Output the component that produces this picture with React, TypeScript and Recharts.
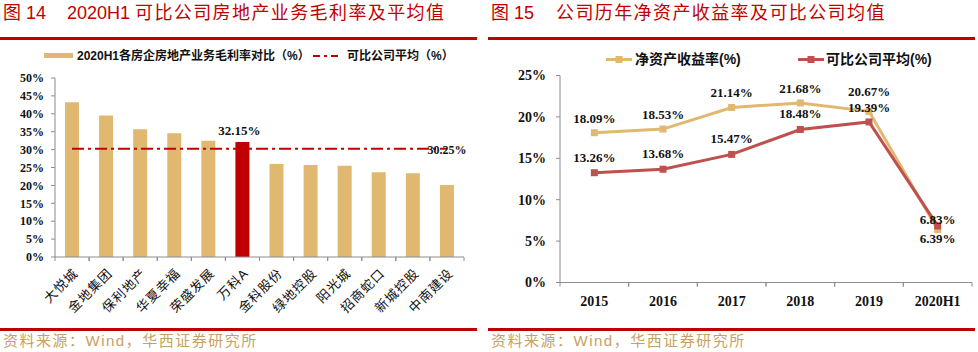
import { ComposedChart, Bar, Line, XAxis, YAxis, Cell, LabelList } from "recharts";

// 图14 数据
const companies = ["大悦城", "金地集团", "保利地产", "华夏幸福", "荣盛发展", "万科A", "金科股份", "绿地控股", "阳光城", "招商蛇口", "新城控股", "中南建设"];
const grossMargin = [43.2, 39.5, 35.7, 34.6, 32.5, 32.15, 26.0, 25.7, 25.5, 23.7, 23.4, 20.1];
const peerAvgMargin = 30.25;
const marginTicks = [0, 5, 10, 15, 20, 25, 30, 35, 40, 45, 50];
const highlightCompany = "万科A";

// 图15 数据
const years = ["2015", "2016", "2017", "2018", "2019", "2020H1"];
const roe = [18.09, 18.53, 21.14, 21.68, 20.67, 6.39];
const peerRoe = [13.26, 13.68, 15.47, 18.48, 19.39, 6.83];
const roeTicks = [0, 5, 10, 15, 20, 25];

const GOLD = "#E0B870";
const DARK_RED = "#C00000";
const LINE_RED = "#C0504D";
const AXIS = "#8C8C8C";
const SOURCE = "#C9A063";
const SERIF = "'Liberation Serif', 'Times New Roman', serif";
const CJK = "'Liberation Sans', 'Noto Sans CJK SC', sans-serif";

const L_PLOT_W = 409;
const R_PLOT_W = 412;

const marginData = companies.map((c, i) => ({ company: c, margin: grossMargin[i], avg: peerAvgMargin }));
const roeData = years.map((y, i) => ({ year: y, roe: roe[i], peer: peerRoe[i] }));

const pct = (v: number) => `${v}%`;

function CompanyTick({ x, y, payload }: any) {
  const bw = L_PLOT_W / companies.length;
  const ax = x + 7;
  const ay = y + 17;
  return (
    <g>
      <line x1={x - bw / 2} y1={y} x2={x - bw / 2} y2={y + 4} stroke={AXIS} />
      <line x1={x + bw / 2} y1={y} x2={x + bw / 2} y2={y + 4} stroke={AXIS} />
      <text x={ax} y={ay} textAnchor="end" transform={`rotate(-45, ${ax}, ${ay})`} fontFamily={CJK} fontSize={13} letterSpacing={1} fill="#111">
        {payload.value}
      </text>
    </g>
  );
}

function YearTick({ x, y, payload }: any) {
  const bw = R_PLOT_W / years.length;
  return (
    <g>
      <line x1={x - bw / 2} y1={y} x2={x - bw / 2} y2={y + 4} stroke={AXIS} />
      <line x1={x + bw / 2} y1={y} x2={x + bw / 2} y2={y + 4} stroke={AXIS} />
      <text x={x} y={y + 23} textAnchor="middle" fontFamily={SERIF} fontWeight="bold" fontSize={14} fill="#111">
        {payload.value}
      </text>
    </g>
  );
}

const squareDot = (color: string) => (props: any) => {
  const { cx, cy, index } = props;
  return <rect key={index} x={cx - 3.5} y={cy - 3.5} width={7} height={7} fill={color} />;
};

const roeLabelDy = [-10, -10, -10, -10, -15, 13];
const peerLabelDy = [-11, -11, -11, -11, -10, -2];

const makeRoeLabel = (dys: number[]) => (props: any) => {
  const { x, y, value, index } = props;
  return (
    <text key={index} x={x} y={y + dys[index]} textAnchor="middle" fontFamily={SERIF} fontWeight="bold" fontSize={13} fill="#111">
      {value.toFixed(2)}%
    </text>
  );
};

function VankeLabel(props: any) {
  const { x, y, width, value, index } = props;
  if (companies[index] !== highlightCompany) return null;
  return (
    <text x={x + width / 2 - 3} y={y - 7} textAnchor="middle" fontFamily={SERIF} fontWeight="bold" fontSize={13} fill="#111">
      {value.toFixed(2)}%
    </text>
  );
}

function AvgLabel(props: any) {
  const { x, y, value, index } = props;
  if (index !== companies.length - 1) return null;
  return (
    <text x={x} y={y + 5} textAnchor="middle" fontFamily={SERIF} fontWeight="bold" fontSize={12} fill="#111">
      {value.toFixed(2)}%
    </text>
  );
}

function MarginChart() {
  return (
    <ComposedChart width={488} height={330} data={marginData} margin={{ top: 78, right: 24, bottom: 0, left: 0 }}>
      <XAxis dataKey="company" height={73} tickSize={0} tickMargin={0} tickLine={false} axisLine={{ stroke: AXIS }} tick={<CompanyTick />} interval={0} />
      <YAxis
        width={55}
        domain={[0, 50]}
        ticks={marginTicks}
        tickFormatter={pct}
        tickSize={4}
        tickMargin={7}
        axisLine={{ stroke: AXIS }}
        tickLine={{ stroke: AXIS }}
        tick={{ fontFamily: SERIF, fontWeight: "bold", fontSize: 12, fill: "#111" }}
        interval={0}
      />
      <Bar dataKey="margin" barSize={14} isAnimationActive={false}>
        {marginData.map((d, i) => (
          <Cell key={i} fill={d.company === highlightCompany ? DARK_RED : GOLD} />
        ))}
        <LabelList dataKey="margin" content={VankeLabel} />
      </Bar>
      <Line dataKey="avg" type="linear" stroke={DARK_RED} strokeWidth={2} strokeDasharray="12 4 3 4" dot={false} activeDot={false} isAnimationActive={false}>
        <LabelList dataKey="avg" content={AvgLabel} />
      </Line>
    </ComposedChart>
  );
}

function RoeChart() {
  return (
    <ComposedChart width={490} height={330} data={roeData} margin={{ top: 75.5, right: 6, bottom: 0, left: 0 }}>
      <XAxis dataKey="year" scale="band" height={47.5} tickSize={0} tickMargin={0} tickLine={false} axisLine={{ stroke: AXIS }} tick={<YearTick />} interval={0} />
      <YAxis
        width={72}
        domain={[0, 25]}
        ticks={roeTicks}
        tickFormatter={pct}
        tickSize={4}
        tickMargin={10}
        axisLine={{ stroke: AXIS }}
        tickLine={{ stroke: AXIS }}
        tick={{ fontFamily: SERIF, fontWeight: "bold", fontSize: 14, fill: "#111" }}
        interval={0}
      />
      <Line dataKey="roe" type="linear" stroke={GOLD} strokeWidth={3} dot={squareDot(GOLD)} activeDot={false} isAnimationActive={false}>
        <LabelList dataKey="roe" content={makeRoeLabel(roeLabelDy)} />
      </Line>
      <Line dataKey="peer" type="linear" stroke={LINE_RED} strokeWidth={3} dot={squareDot(LINE_RED)} activeDot={false} isAnimationActive={false}>
        <LabelList dataKey="peer" content={makeRoeLabel(peerLabelDy)} />
      </Line>
    </ComposedChart>
  );
}

const abs = (left: number, top: number, extra: any = {}) => ({ position: "absolute" as const, left, top, ...extra });

export default function App() {
  const titleStyle = { fontFamily: CJK, fontSize: 18, color: DARK_RED, whiteSpace: "pre" as const, lineHeight: "18px" };
  const sourceStyle = { fontFamily: CJK, fontSize: 15, color: SOURCE, letterSpacing: 1.5, whiteSpace: "pre" as const, lineHeight: "16px" };
  const legendText = { fontFamily: CJK, fontWeight: "bold" as const, color: "#111", whiteSpace: "pre" as const };
  return (
    <div style={{ position: "absolute", left: 0, top: 0, width: 978, height: 352, background: "#fff", overflow: "hidden" }}>
      {/* 标题 */}
      <div style={{ ...abs(3, 4), ...titleStyle }}>图 14</div>
      <div style={{ ...abs(67, 4), ...titleStyle }}>2020H1</div>
      <div style={{ ...abs(135, 4), ...titleStyle, letterSpacing: 1.4 }}>可比公司房地产业务毛利率及平均值</div>
      <div style={{ ...abs(491, 4), ...titleStyle }}>图 15</div>
      <div style={{ ...abs(556, 4), ...titleStyle, letterSpacing: 1.4 }}>公司历年净资产收益率及可比公司均值</div>
      <div style={abs(0, 36.5, { width: 477, height: 3, background: DARK_RED })} />
      <div style={abs(488, 36.5, { width: 487, height: 3, background: DARK_RED })} />

      {/* 图例 */}
      <div style={abs(44, 53, { width: 29, height: 5, background: GOLD })} />
      <div style={{ ...abs(77, 48), ...legendText, fontSize: 12, lineHeight: "16px" }}>2020H1各房企房地产业务毛利率对比（%）</div>
      <svg style={abs(313, 52)} width={28} height={8}>
        <line x1={0} y1={4} x2={28} y2={4} stroke={DARK_RED} strokeWidth={2} strokeDasharray="7 4 3 4" />
      </svg>
      <div style={{ ...abs(347, 48), ...legendText, fontSize: 12, lineHeight: "16px" }}>可比公司平均（%）</div>

      <svg style={abs(606, 55)} width={26} height={9}>
        <line x1={0} y1={4.5} x2={26} y2={4.5} stroke={GOLD} strokeWidth={3} />
        <rect x={9.5} y={1} width={7} height={7} fill={GOLD} />
      </svg>
      <div style={{ ...abs(635, 50), ...legendText, fontSize: 14, lineHeight: "18px" }}>净资产收益率(%)</div>
      <svg style={abs(798, 55)} width={26} height={9}>
        <line x1={0} y1={4.5} x2={26} y2={4.5} stroke={LINE_RED} strokeWidth={3} />
        <rect x={9.5} y={1} width={7} height={7} fill={LINE_RED} />
      </svg>
      <div style={{ ...abs(826, 50), ...legendText, fontSize: 14, lineHeight: "18px" }}>可比公司平均(%)</div>

      {/* 图表 */}
      <div style={abs(0, 0)}>
        <MarginChart />
      </div>
      <div style={abs(488, 0)}>
        <RoeChart />
      </div>

      {/* 资料来源 */}
      <div style={abs(0, 327.5, { width: 477, height: 3, background: DARK_RED })} />
      <div style={abs(488, 327.5, { width: 487, height: 3, background: DARK_RED })} />
      <div style={{ ...abs(3, 333), ...sourceStyle }}>资料来源：Wind，华西证券研究所</div>
      <div style={{ ...abs(491, 333), ...sourceStyle }}>资料来源：Wind，华西证券研究所</div>
    </div>
  );
}
